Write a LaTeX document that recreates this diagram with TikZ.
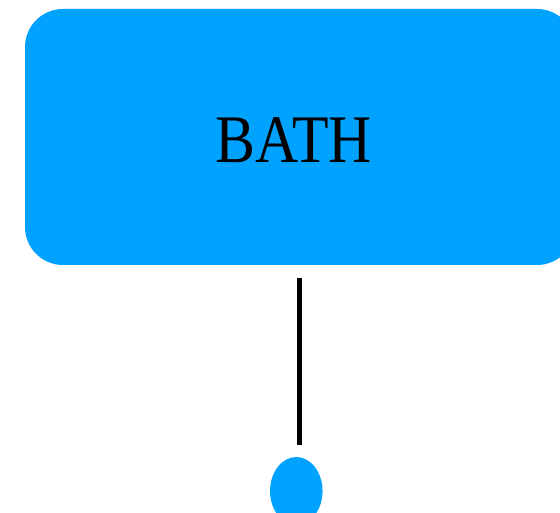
\documentclass[tikz,border=0pt]{standalone}
\usepackage{fontspec}
\setmainfont{Liberation Serif}
\newfontfamily\labelfont[FakeStretch=0.88]{Liberation Serif}
\definecolor{skyblue}{RGB}{0,162,255}
\tikzset{
  boxstyle/.style={fill=skyblue, draw=none, rounded corners=38pt, minimum width=550pt, minimum height=256pt, inner sep=0pt},
  labelstyle/.style={font=\labelfont\fontsize{68pt}{68pt}\selectfont, text=black, inner sep=0pt},
  linkstyle/.style={line width=5pt, black},
  dotstyle/.style={fill=skyblue, draw=none, ellipse, minimum width=52.5pt, minimum height=68pt, inner sep=0pt}
}
\usetikzlibrary{shapes.geometric}
\begin{document}
\begin{tikzpicture}[x=1pt,y=1pt]
\clip (0,0) rectangle (560,-513);
\useasboundingbox (0,0) rectangle (560,-513);
\node[boxstyle] (box) at (300,-137) {};
\node[labelstyle] (label) at (294,-140.5) {BATH};
\node[dotstyle] (dot) at (296.3,-491) {};
\coordinate (top) at (299.5,-278);
\coordinate (bottom) at (299.5,-445);
\draw[linkstyle] (top) -- (bottom);
\end{tikzpicture}
\end{document}
